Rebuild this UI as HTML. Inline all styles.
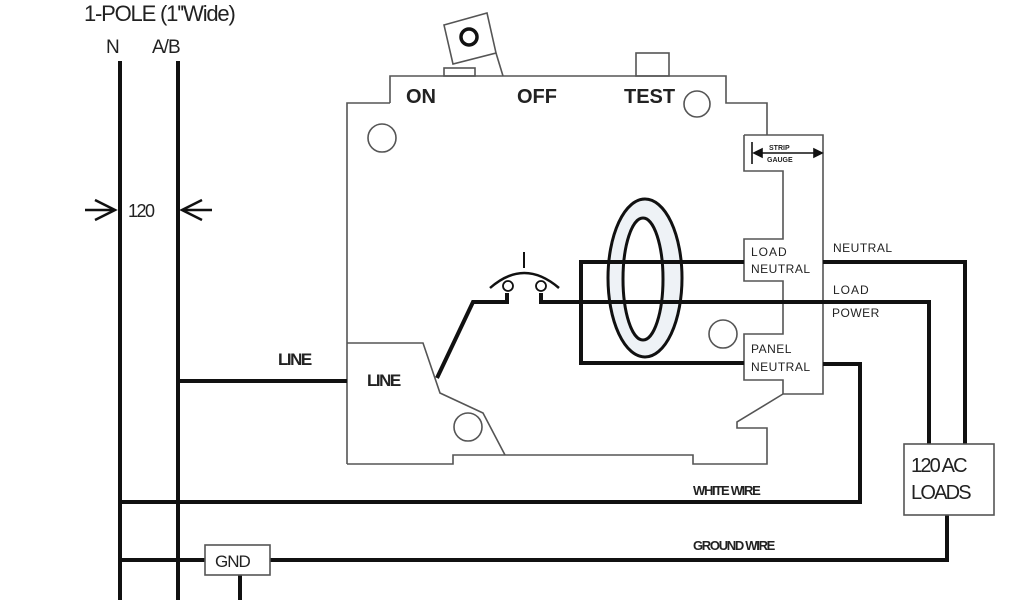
<!DOCTYPE html>
<html><head><meta charset="utf-8"><style>
html,body{margin:0;padding:0;background:#fff;}
svg{display:block;}
text{font-family:"Liberation Sans",Arial,sans-serif;fill:#222;}
</style></head><body>
<svg width="1024" height="600" viewBox="0 0 1024 600" xmlns="http://www.w3.org/2000/svg">
<text x="84" y="21" font-size="22" letter-spacing="-1.2">1-POLE (1''Wide)</text>
<text x="106" y="53" font-size="19">N</text>
<text x="152" y="53" font-size="19" letter-spacing="-1">A/B</text>
<g stroke="#111" stroke-width="4" fill="none">
<line x1="120" y1="61" x2="120" y2="600"/>
<line x1="178" y1="61" x2="178" y2="600"/>
</g>
<g stroke="#111" stroke-width="2.5" fill="none">
<line x1="85" y1="210" x2="114" y2="210"/>
<line x1="184" y1="210" x2="212" y2="210"/>
<polyline points="95,200 115,210 95,220"/>
<polyline points="202,200 182,210 202,220"/>
</g>
<text x="128" y="217" font-size="18" letter-spacing="-1.5">120</text>

<g stroke="#555" stroke-width="1.6" fill="none">
<polyline points="390,103 390,76 726,76 726,103 767,103 767,135"/>
<polyline points="347,464 347,103 390,103"/>
<polyline points="744,135 823,135 823,394 783,394 737,422 737,428 767,428 767,464 693,464 693,455 453,455 453,464 347,464"/>
<polyline points="744,135 744,171 783,171 783,239 744,239 744,281 783,281 783,334 744,334 744,380 783,380 783,394"/>
<polyline points="347,343 423,343 440,393 483,413 505,455"/>
<rect x="444" y="68" width="31" height="8"/>
<polygon points="444,25 487,13 496,53 453,64"/>
<line x1="496" y1="53" x2="503" y2="76"/>
<rect x="636" y="53" width="33" height="23"/>
<circle cx="697" cy="104" r="13"/>
<circle cx="382" cy="138" r="14"/>
<circle cx="468" cy="427" r="14"/>
<circle cx="723" cy="334" r="14"/>
</g>
<circle cx="469" cy="37" r="8" stroke="#111" stroke-width="3.5" fill="none"/>
<text x="406" y="103" font-size="20" font-weight="bold">ON</text>
<text x="517" y="103" font-size="20" font-weight="bold">OFF</text>
<text x="624" y="103" font-size="20" font-weight="bold">TEST</text>
<text x="278" y="365" font-size="17" font-weight="bold" letter-spacing="-1.5">LINE</text>
<text x="367" y="386" font-size="17" font-weight="bold" letter-spacing="-1.5">LINE</text>

<g stroke="#111" stroke-width="1.6" fill="#111">
<line x1="752" y1="142" x2="752" y2="164"/>
<line x1="755" y1="153" x2="820" y2="153"/>
<polygon points="754,153 762,149 762,157"/>
<polygon points="822,153 814,149 814,157"/>
</g>
<text x="769" y="150" font-size="7" font-weight="bold">STRIP</text>
<text x="767" y="162" font-size="7" font-weight="bold">GAUGE</text>

<text x="751" y="256" font-size="12" letter-spacing="1">LOAD</text>
<text x="751" y="273" font-size="12" letter-spacing="0.5">NEUTRAL</text>
<text x="751" y="353" font-size="12" letter-spacing="0.5">PANEL</text>
<text x="751" y="371" font-size="12" letter-spacing="0.5">NEUTRAL</text>
<text x="833" y="252" font-size="12" letter-spacing="0.5">NEUTRAL</text>
<text x="833" y="294" font-size="12" letter-spacing="1">LOAD</text>
<text x="832" y="317" font-size="12" letter-spacing="0.5">POWER</text>

<ellipse cx="645" cy="278" rx="37" ry="79" fill="#eef2f6" stroke="#111" stroke-width="3"/>
<ellipse cx="643" cy="279" rx="20" ry="61" fill="#fff" stroke="#111" stroke-width="3"/>

<g stroke="#111" stroke-width="4" fill="none" stroke-linejoin="miter">
<polyline points="744,262 581,262 581,363 744,363"/>
<polyline points="823,262 965,262 965,444"/>
<polyline points="541,293 541,302 929,302 929,444"/>
<polyline points="437,378 473,302 507,302 507,293"/>
<polyline points="823,364 860,364 860,502 120,502"/>
<line x1="178" y1="381" x2="347" y2="381"/>
<line x1="120" y1="560" x2="205" y2="560"/>
<polyline points="270,560 947,560 947,515"/>
<line x1="240" y1="575" x2="240" y2="600"/>
</g>
<path d="M490,288 Q524,258 559,288" stroke="#111" stroke-width="2.5" fill="none"/>
<line x1="524" y1="252" x2="524" y2="268" stroke="#111" stroke-width="2"/>
<circle cx="508" cy="286" r="5" fill="#fff" stroke="#111" stroke-width="1.8"/>
<circle cx="541" cy="286" r="5" fill="#fff" stroke="#111" stroke-width="1.8"/>

<rect x="205" y="545" width="65" height="30" fill="#fff" stroke="#555" stroke-width="1.6"/>
<text x="215" y="567" font-size="17" letter-spacing="-1">GND</text>
<rect x="904" y="444" width="90" height="71" fill="#fff" stroke="#555" stroke-width="1.6"/>
<text x="911" y="472" font-size="20" letter-spacing="-1.8">120 AC</text>
<text x="911" y="499" font-size="20" letter-spacing="-1.8">LOADS</text>
<text x="693" y="495" font-size="13" font-weight="bold" letter-spacing="-1.3">WHITE WIRE</text>
<text x="693" y="550" font-size="13" font-weight="bold" letter-spacing="-1.3">GROUND WIRE</text>
</svg>
</body></html>
